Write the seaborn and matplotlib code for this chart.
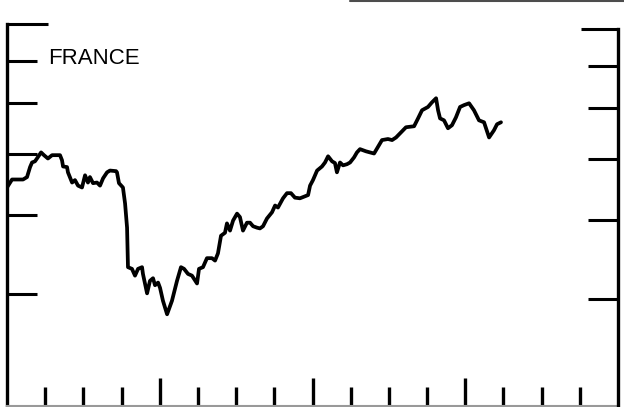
import numpy as np
import pandas as pd
import seaborn as sns
import matplotlib.pyplot as plt
from matplotlib.lines import Line2D
from matplotlib.ticker import FixedLocator, NullFormatter

# France share index (log scale, decimal years)
years = [
    1987.000, 1987.033, 1987.105, 1987.131, 1987.151, 1987.164, 1987.183, 1987.196, 1987.223, 1987.242,
    1987.268, 1987.295, 1987.347, 1987.360, 1987.367, 1987.393, 1987.399, 1987.426, 1987.445, 1987.465,
    1987.491, 1987.511, 1987.530, 1987.543, 1987.563, 1987.589, 1987.609, 1987.629, 1987.655, 1987.674,
    1987.714, 1987.720, 1987.733, 1987.759, 1987.773, 1987.786, 1987.792, 1987.818, 1987.838, 1987.858,
    1987.884, 1987.890, 1987.917, 1987.936, 1987.956, 1987.969, 1987.989, 1988.002, 1988.021, 1988.048,
    1988.080, 1988.113, 1988.139, 1988.159, 1988.185, 1988.211, 1988.244, 1988.257, 1988.283, 1988.309,
    1988.342, 1988.362, 1988.381, 1988.401, 1988.427, 1988.440, 1988.460, 1988.480, 1988.506, 1988.525,
    1988.545, 1988.571, 1988.591, 1988.611, 1988.637, 1988.656, 1988.676, 1988.702, 1988.735, 1988.755,
    1988.774, 1988.807, 1988.833, 1988.859, 1988.885, 1988.918, 1988.951, 1988.971, 1988.984, 1989.003,
    1989.030, 1989.062, 1989.082, 1989.102, 1989.128, 1989.147, 1989.160, 1989.180, 1989.200, 1989.226,
    1989.246, 1989.272, 1989.291, 1989.311, 1989.350, 1989.403, 1989.455, 1989.494, 1989.521, 1989.547,
    1989.586, 1989.612, 1989.665, 1989.691, 1989.717, 1989.756, 1989.782, 1989.809, 1989.822, 1989.835,
    1989.861, 1989.887, 1989.913, 1989.939, 1989.966, 1989.992, 1990.025, 1990.057, 1990.090, 1990.123,
    1990.156, 1990.188, 1990.208, 1990.234,
]
index = [
    44.2, 45.5, 45.5, 45.9, 47.6, 48.4, 48.6, 49.1, 50.2, 49.7,
    49.1, 49.7, 49.7, 48.8, 47.7, 47.6, 46.7, 45.0, 45.4, 44.5,
    44.2, 46.2, 45.0, 45.9, 44.9, 45.0, 44.5, 45.7, 46.7, 47.0,
    46.9, 46.7, 44.9, 44.2, 41.7, 38.2, 33.1, 32.9, 32.1, 32.9,
    33.1, 32.3, 30.1, 31.5, 31.8, 31.0, 31.3, 30.7, 29.3, 27.9,
    29.3, 31.5, 33.1, 32.9, 32.3, 32.1, 31.2, 32.9, 33.1, 34.2,
    34.2, 33.9, 34.8, 37.1, 37.5, 38.8, 37.8, 39.2, 40.2, 39.7,
    37.8, 38.9, 38.9, 38.4, 38.2, 38.1, 38.4, 39.5, 40.4, 41.4,
    41.1, 42.5, 43.3, 43.3, 42.6, 42.5, 42.8, 43.0, 44.5, 45.4,
    47.0, 47.7, 48.4, 49.5, 48.6, 48.3, 46.7, 48.4, 47.9, 48.1,
    48.4, 49.3, 50.2, 50.8, 50.4, 50.0, 52.5, 52.7, 52.5, 53.0,
    54.2, 55.0, 55.2, 56.8, 58.5, 59.2, 60.2, 61.1, 58.5, 56.8,
    56.4, 54.8, 55.4, 57.0, 59.2, 59.6, 60.0, 58.5, 56.4, 56.0,
    53.0, 54.4, 55.6, 56.0,
]
label = "FRANCE"

year_ticks = [1988, 1989, 1990]
quarter_ticks = [q for q in np.arange(1987.25, 1991.0, 0.25) if q not in year_ticks]
y_ticks = [30, 40, 50, 60, 70]

df = pd.DataFrame({"year": years, "index": index})

sns.set_style("white")
plt.rcParams["font.family"] = ["Liberation Sans", "DejaVu Sans"]

fig = plt.figure(figsize=(6.24, 4.07), dpi=100)
ax = fig.add_axes([7 / 624, 1 / 407, 611 / 624, 382 / 407])

sns.lineplot(data=df, x="year", y="index", ax=ax, color="black", linewidth=2.7)

ax.set_xlim(1987, 1991)
ax.set_yscale("log")
ax.set_ylim(20, 80)
ax.set_xlabel("")
ax.set_ylabel("")

# second (right) scale, offset a touch like the scan
ax2 = ax.twinx()
ax2.set_yscale("log")
ax2.set_ylim(20.37, 81.47)

for a in (ax, ax2):
    a.yaxis.set_major_locator(FixedLocator(y_ticks))
    a.yaxis.set_minor_locator(FixedLocator([80]))
    a.yaxis.set_major_formatter(NullFormatter())
    a.yaxis.set_minor_formatter(NullFormatter())

ax.xaxis.set_major_locator(FixedLocator(year_ticks))
ax.xaxis.set_minor_locator(FixedLocator(quarter_ticks))
ax.xaxis.set_major_formatter(NullFormatter())
ax.xaxis.set_minor_formatter(NullFormatter())

ax.tick_params(axis="x", which="major", direction="in", length=20, width=2.4, color="black",
               bottom=True, top=False)
ax.tick_params(axis="x", which="minor", direction="in", length=13.5, width=2.4, color="black",
               bottom=True, top=False)
ax.tick_params(axis="y", which="major", direction="in", length=21.5, width=2.2, color="black",
               left=True, right=False)
ax.tick_params(axis="y", which="minor", direction="in", length=29.5, width=2.2, color="black",
               left=True, right=False)
ax2.tick_params(axis="y", which="major", direction="in", length=21.5, width=2.2, color="black",
                right=True, left=False)
ax2.tick_params(axis="y", which="minor", direction="in", length=26.5, width=2.2, color="black",
                right=True, left=False)

for s in ["top", "right"]:
    ax.spines[s].set_visible(False)
for s in ["top", "left", "bottom"]:
    ax2.spines[s].set_visible(False)
ax.spines["left"].set_linewidth(2.4)
ax.spines["left"].set_color("black")
ax.spines["bottom"].set_linewidth(1.5)
ax.spines["bottom"].set_color("0.6")
ax2.spines["right"].set_linewidth(2.4)
ax2.spines["right"].set_color("black")
ax2.spines["right"].set_bounds(20.37, 80)

ax.text(0.067, 0.895, label, transform=ax.transAxes, fontsize=16, color="black",
        ha="left", va="baseline")

# edge of the previous panel showing at the top of the scan
fig.add_artist(Line2D([350 / 624, 1.0], [1 - 1 / 407, 1 - 1 / 407], transform=fig.transFigure,
                      color="0.3", linewidth=1.5))

fig.savefig("out.png", dpi=100)
plt.close("all")
